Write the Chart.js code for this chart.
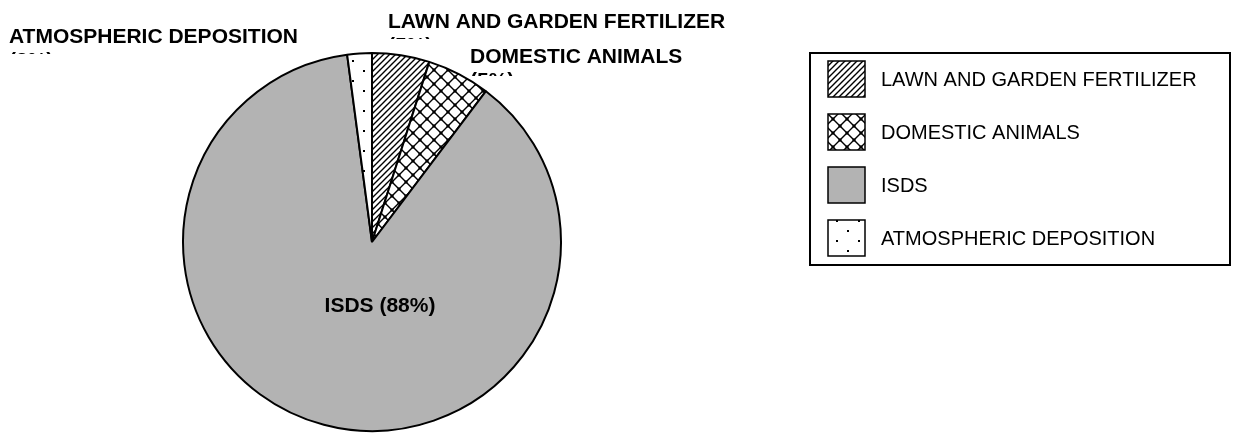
<!DOCTYPE html>
<html lang="en">
  <head>
    <meta charset="utf-8" />
    <script src="https://cdn.jsdelivr.net/npm/chart.js"></script>
    <title>Fontes</title>
    <style>
      body {
        margin: 0;
        padding: 0;
        background: #ffffff;
      }
      #wrap {
        width: 1243px;
        height: 434px;
      }
    </style>
  </head>
  <body>
    <div id="wrap"><canvas id="pieChart" width="1243" height="434"></canvas></div>

    <script>
      // dados
      var categorias = ["LAWN AND GARDEN FERTILIZER", "DOMESTIC ANIMALS", "ISDS", "ATMOSPHERIC DEPOSITION"];
      var valores = [4.9, 5.4, 87.6, 2.1];
      var rotulosPct = ["(5%)", "(5%)", "(88%)", "(2%)"];

      // posicao dos rotulos das fatias (x, linha de base, corte da segunda linha)
      var posRotulos = [
        { x: 388, y: 28, corte: 39 },
        { x: 470, y: 63, corte: 76 },
        { x: 380, y: 312, centro: true },
        { x: 9, y: 43, corte: 54 }
      ];

      // padroes de preenchimento
      function padrao(w, h, desenha) {
        var c = document.createElement('canvas');
        c.width = w;
        c.height = h;
        var g = c.getContext('2d');
        g.fillStyle = '#ffffff';
        g.fillRect(0, 0, w, h);
        g.fillStyle = '#000000';
        g.strokeStyle = '#000000';
        desenha(g, w, h);
        return document.createElement('canvas').getContext('2d').createPattern(c, 'repeat');
      }

      var listras = padrao(6, 6, function (g, w, h) {
        g.lineWidth = 1.4;
        g.beginPath();
        g.moveTo(-1, h + 1); g.lineTo(w + 1, -1);
        g.moveTo(-1, 1); g.lineTo(1, -1);
        g.moveTo(w - 1, h + 1); g.lineTo(w + 1, h - 1);
        g.stroke();
      });

      var xadrez = padrao(14, 14, function (g, w, h) {
        g.lineWidth = 1.4;
        g.beginPath();
        g.moveTo(0, 0); g.lineTo(w, h);
        g.moveTo(w, 0); g.lineTo(0, h);
        g.stroke();
        g.fillRect(5.5, 5.5, 3, 3);
        g.fillRect(0, 0, 1.5, 1.5);
        g.fillRect(w - 1.5, 0, 1.5, 1.5);
        g.fillRect(0, h - 1.5, 1.5, 1.5);
        g.fillRect(w - 1.5, h - 1.5, 1.5, 1.5);
      });

      var pontos = padrao(22, 20, function (g) {
        g.fillRect(0, 0, 2, 2);
        g.fillRect(11, 10, 2, 2);
      });

      var cores = [listras, xadrez, '#b3b3b3', pontos];

      var rotulosPlugin = {
        id: 'rotulos',
        afterDraw: function (chart) {
          var ctx = chart.ctx;
          ctx.save();
          ctx.fillStyle = '#000000';
          ctx.font = 'bold 21px "Liberation Sans", Arial, sans-serif';
          ctx.textBaseline = 'alphabetic';
          posRotulos.forEach(function (p, i) {
            if (p.centro) {
              ctx.textAlign = 'center';
              ctx.fillText(categorias[i] + ' ' + rotulosPct[i], p.x, p.y);
              return;
            }
            ctx.textAlign = 'left';
            ctx.fillText(categorias[i], p.x, p.y);
            ctx.save();
            ctx.beginPath();
            ctx.rect(p.x - 2, p.y + 2, 400, p.corte - p.y - 2);
            ctx.clip();
            ctx.fillText(rotulosPct[i], p.x, p.y + 24);
            ctx.restore();
          });

          // legenda
          var lx = 810, ly = 53, lw = 420, lh = 212;
          ctx.lineWidth = 2;
          ctx.strokeStyle = '#000000';
          ctx.strokeRect(lx, ly, lw, lh);
          ctx.font = '20px "Liberation Sans", Arial, sans-serif';
          ctx.textBaseline = 'middle';
          ctx.textAlign = 'left';
          categorias.forEach(function (nome, i) {
            var y = 61 + i * 53;
            ctx.fillStyle = cores[i];
            ctx.fillRect(828, y, 37, 36);
            ctx.lineWidth = 1.5;
            ctx.strokeRect(828, y, 37, 36);
            ctx.fillStyle = '#000000';
            ctx.fillText(nome, 881, y + 19);
          });
          ctx.restore();
        }
      };

      var ctx = document.getElementById('pieChart').getContext('2d');
      var grafico = new Chart(ctx, {
        type: 'pie',
        data: {
          labels: categorias,
          datasets: [{
            data: valores,
            backgroundColor: cores,
            borderColor: '#000000',
            borderWidth: 2,
            hoverOffset: 0
          }]
        },
        options: {
          responsive: false,
          animation: false,
          events: [],
          layout: {
            padding: { left: 182, right: 681, top: 52, bottom: 2 }
          },
          plugins: {
            legend: { display: false },
            tooltip: { enabled: false }
          }
        },
        plugins: [rotulosPlugin]
      });
    </script>
  </body>
</html>
